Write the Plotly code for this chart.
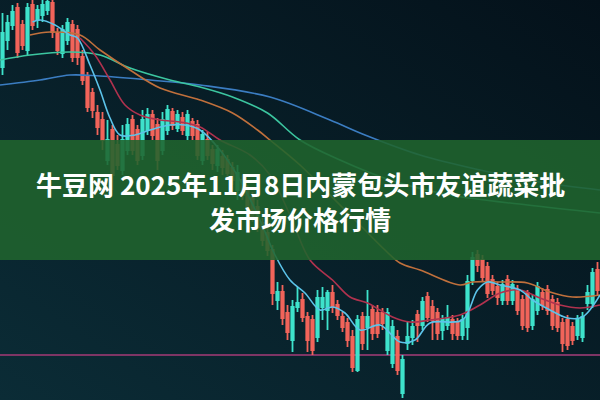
import base64
import plotly.graph_objects as go

# ---- candle data (price units, higher = up) ----
idx = list(range(120))
open_ = [333,360,375,392,375,350,395,380,385,390,397,367,347,360,375,370,343,323,307,287,
         280,240,270,255,230,250,280,270,245,270,285,275,250,270,288,272,282,265,278,275,
         240,260,250,235,243,240,232,210,220,210,203,193,177,167,150,100,108,87,60,93,
         100,83,80,63,93,90,107,95,83,77,63,30,83,73,90,87,87,50,37,63,
         7,57,63,85,75,103,93,87,70,75,80,78,65,73,120,145,140,133,120,113,
         100,120,100,110,100,107,75,90,107,110,100,97,77,80,73,65,63,97,97,130]
high_ = [387,385,395,397,380,397,400,395,400,402,402,372,375,382,380,375,350,328,312,295,
         288,280,275,265,275,282,285,275,290,292,290,282,288,295,292,290,288,290,282,280,
         270,268,255,255,250,245,238,235,225,215,208,200,182,172,155,118,115,95,100,113,
         107,88,85,110,113,110,115,100,88,82,70,85,88,110,95,95,92,92,80,70,
         45,78,80,90,103,108,100,92,85,95,85,82,85,125,148,150,145,138,125,118,
         120,125,120,115,105,110,105,118,112,115,105,102,82,85,78,85,88,115,132,138]
low_ = [325,350,370,342,350,345,370,372,378,385,362,345,342,355,338,335,315,288,282,265,
        250,235,210,230,225,245,245,235,240,265,260,230,245,265,270,268,265,260,260,240,
        235,240,230,228,225,220,215,200,200,188,178,168,154,144,95,90,75,60,48,88,
        78,48,45,58,80,70,87,80,68,53,28,28,50,50,60,62,70,45,32,25,
        2,50,55,58,70,78,60,60,60,70,60,60,60,60,115,128,118,102,105,95,
        95,95,95,85,70,68,70,85,90,85,70,68,48,50,55,60,58,90,92,105]
close_ = [367,377,388,348,355,392,375,390,395,398,368,350,370,377,343,343,320,293,290,273,
          260,260,225,235,260,275,250,240,280,285,265,240,280,290,275,285,270,285,265,245,
          265,245,237,250,233,227,220,227,205,193,183,173,160,150,107,108,82,68,93,97,
          83,60,50,102,102,107,93,85,73,60,33,80,57,83,67,67,77,87,73,30,
          40,63,73,75,98,83,80,67,80,82,67,65,80,118,142,135,123,107,110,103,
          115,100,115,90,75,73,100,113,95,90,75,73,57,55,60,80,83,107,127,110]

# ---- moving-average lines (x in candle index, value in price units) ----
ma_fast_x = [6, 7.5, 10.5, 13.5, 15, 17.5, 19.5, 21.5, 23.5, 26.5, 29.5, 33.5, 36.5, 39.5, 43.5,
             47.5, 51.5, 54.5, 57.5, 60.5, 63.5, 66, 68.5, 71.5, 75.5, 79.5, 82.5, 85.5, 92,
             95, 97, 99.5, 103.5, 106, 109.5, 113, 116, 119.5]
ma_fast_y = [378, 380, 375, 365, 362, 335, 310, 282, 265, 265, 270, 275, 275, 270, 250,
             220, 180, 145, 120, 107, 90, 93, 87, 70, 75, 58, 60, 77, 80,
             110, 118, 115, 110, 100, 90, 82, 83, 105]
ma_red_x = [15.5, 18.5, 21.5, 24.5, 27.5, 31.5, 35.5, 39.5, 43.5, 49.5, 53.5, 57.5, 61.5, 66,
            69.5, 73, 75.5, 78, 81.5, 85.5, 91.5, 95.5, 99.5, 103.5, 107.5, 111.5, 115.5, 119.5]
ma_red_y = [362, 345, 320, 295, 285, 280, 278, 273, 260, 245, 225, 185, 140, 120,
            103, 97, 90, 83, 78, 80, 85, 95, 107, 110, 102, 95, 92, 95]
ma_orange_x = [5.5, 9.5, 15.5, 19.5, 25.5, 31.5, 39.5, 46, 51, 53.5, 59.5, 65.5, 71.5, 76.5,
               79.5, 83.5, 91.5, 94, 99.5, 105, 109.5, 114, 119.5]
ma_orange_y = [365, 368, 365, 350, 330, 312, 300, 287, 270, 260, 235, 205, 175, 150,
               137, 130, 115, 118, 118, 117, 108, 103, 105]
ma_mint_x = [-0.5, 5.5, 13.5, 19.5, 25.5, 33.5, 39.5, 46, 53, 59.5, 67.5, 77.5, 89.5, 105, 119.5]
ma_mint_y = [340, 345, 348, 345, 332, 320, 313, 303, 287, 260, 240, 220, 205, 195, 187]
ma_blue_x = [-0.5, 7.5, 13.5, 19.5, 29.5, 39.5, 53.5, 65.5, 72.5, 83.5, 95.5, 107.5, 119.5]
ma_blue_y = [315, 320, 325, 324, 320, 315, 303, 280, 265, 245, 230, 218, 210]
support_level = 45

title_line1 = "牛豆网 2025年11月8日内蒙包头市友谊蔬菜批"
title_line2 = "发市场价格行情"

UP = "#3ee3cc"
DOWN = "#f2645a"

# subtle dark background gradient (decorative)
svg = ('<svg xmlns="http://www.w3.org/2000/svg" width="600" height="400">'
       '<defs><linearGradient id="g" x1="1" y1="0" x2="0" y2="1">'
       '<stop offset="0" stop-color="#04111a"/><stop offset="1" stop-color="#0b2c36"/>'
       '</linearGradient></defs><rect width="600" height="400" fill="url(#g)"/></svg>')
bg_src = "data:image/svg+xml;base64," + base64.b64encode(svg.encode()).decode()

fig = go.Figure()

fig.add_hline(y=support_level, line=dict(color="#7e3565", width=2), layer="below")

fig.add_trace(go.Candlestick(
    x=idx, open=open_, high=high_, low=low_, close=close_,
    increasing=dict(line=dict(color=UP, width=1.8), fillcolor=UP),
    decreasing=dict(line=dict(color=DOWN, width=1.8), fillcolor=DOWN),
    whiskerwidth=0, showlegend=False, hoverinfo="skip",
))

for xs, ys, col in [
    (ma_blue_x, ma_blue_y, "#3b7dc2"),
    (ma_mint_x, ma_mint_y, "#3cc6a0"),
    (ma_orange_x, ma_orange_y, "#c0703c"),
    (ma_red_x, ma_red_y, "#b0324e"),
    (ma_fast_x, ma_fast_y, "#5cc4ea"),
]:
    fig.add_trace(go.Scatter(x=xs, y=ys, mode="lines", line=dict(color=col, width=1.6, shape="spline"),
                             showlegend=False, hoverinfo="skip"))

# green title band
fig.add_shape(type="rect", xref="paper", yref="y", x0=0, x1=1, y0=140, y1=260,
              fillcolor="rgba(32,100,46,0.88)", line=dict(width=0), layer="above")

font = dict(family="Noto Sans CJK SC", size=26, color="white")
fig.add_annotation(xref="paper", yref="y", x=0.5, y=217, text="<b>%s</b>" % title_line1,
                   showarrow=False, font=font, xanchor="center", yanchor="middle")
fig.add_annotation(xref="paper", yref="y", x=0.5, y=182, text="<b>%s</b>" % title_line2,
                   showarrow=False, font=font, xanchor="center", yanchor="middle")

fig.update_layout(
    width=600, height=400,
    margin=dict(l=0, r=0, t=0, b=0),
    paper_bgcolor="#08202a", plot_bgcolor="rgba(0,0,0,0)",
    images=[dict(source=bg_src, xref="paper", yref="paper", x=0, y=1, sizex=1, sizey=1,
                 xanchor="left", yanchor="top", sizing="stretch", layer="below")],
    xaxis=dict(range=[-0.5, 119.5], visible=False, rangeslider=dict(visible=False), fixedrange=True),
    yaxis=dict(range=[0, 400], visible=False, fixedrange=True),
)

fig.write_html("out.html", config={"displayModeBar": False},
               post_script="document.body.style.margin='0';document.body.style.overflow='hidden';")
